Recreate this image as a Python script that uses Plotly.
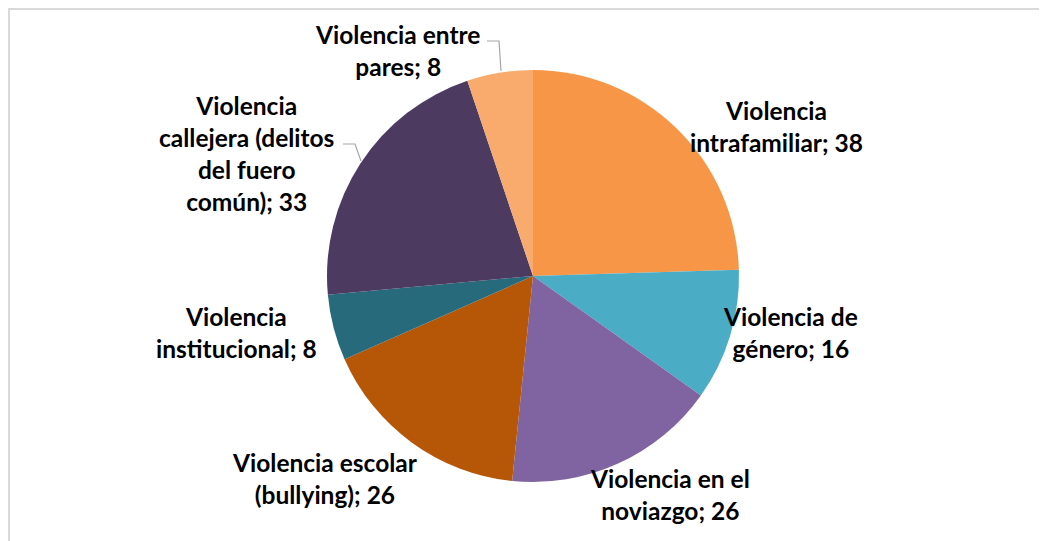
import plotly.graph_objects as go

categories = [
    "Violencia intrafamiliar",
    "Violencia de género",
    "Violencia en el noviazgo",
    "Violencia escolar (bullying)",
    "Violencia institucional",
    "Violencia callejera (delitos del fuero común)",
    "Violencia entre pares",
]
values = [38, 16, 26, 26, 8, 33, 8]
label_texts = [
    "Violencia<br>intrafamiliar; 38",
    "Violencia de<br>género; 16",
    "Violencia en el<br>noviazgo; 26",
    "Violencia escolar<br>(bullying); 26",
    "Violencia<br>institucional; 8",
    "Violencia<br>callejera (delitos<br>del fuero<br>común); 33",
    "Violencia entre<br>pares; 8",
]
colors = ["#F79646", "#4BACC6", "#8064A2", "#B65708", "#276A7C", "#4D3A61", "#F9AB6D"]

OFF = 8  # default page body margin
W, H = 1047 - OFF, 541 - OFF
def px(x):
    return (x - OFF) / W
def py(y):
    return 1 - (y - OFF) / H

# label centre positions (pixels in window)
label_pos = [
    (776, 127),
    (790, 332),
    (670, 494),
    (325, 478),
    (236, 332),
    (246, 153),
    (397, 50),
]

fig = go.Figure()
fig.add_trace(go.Pie(
    labels=categories,
    values=values,
    sort=False,
    direction="clockwise",
    rotation=0,
    marker=dict(colors=colors, line=dict(width=0)),
    textinfo="none",
    hoverinfo="skip",
    showlegend=False,
    domain=dict(x=[px(327), px(739)], y=[py(482), py(70)]),
))

for txt, (x, y) in zip(label_texts, label_pos):
    fig.add_annotation(
        x=px(x), y=py(y), xref="paper", yref="paper",
        text="<b>" + txt + "</b>", showarrow=False,
        font=dict(family="Lato, Open Sans, sans-serif", size=24.5, color="#000000"),
        align="center", xanchor="center", yanchor="middle",
    )

# leader lines
fig.add_shape(type="path", xref="paper", yref="paper",
              path=f"M {px(487)} {py(41)} L {px(499)} {py(41)} L {px(501)} {py(71)}",
              line=dict(color="#A6A6A6", width=1.2))
fig.add_shape(type="path", xref="paper", yref="paper",
              path=f"M {px(343)} {py(144)} L {px(355)} {py(144)} L {px(361)} {py(161)}",
              line=dict(color="#A6A6A6", width=1.2))

# chart border
fig.add_shape(type="rect", xref="paper", yref="paper",
              x0=px(9), y0=py(560), x1=px(1060), y1=py(9),
              line=dict(color="#D9D9D9", width=2), fillcolor="rgba(0,0,0,0)")

fig.update_layout(
    width=W, height=H,
    margin=dict(l=0, r=0, t=0, b=0),
    paper_bgcolor="white",
    plot_bgcolor="white",
)
fig.write_html("out.html")
